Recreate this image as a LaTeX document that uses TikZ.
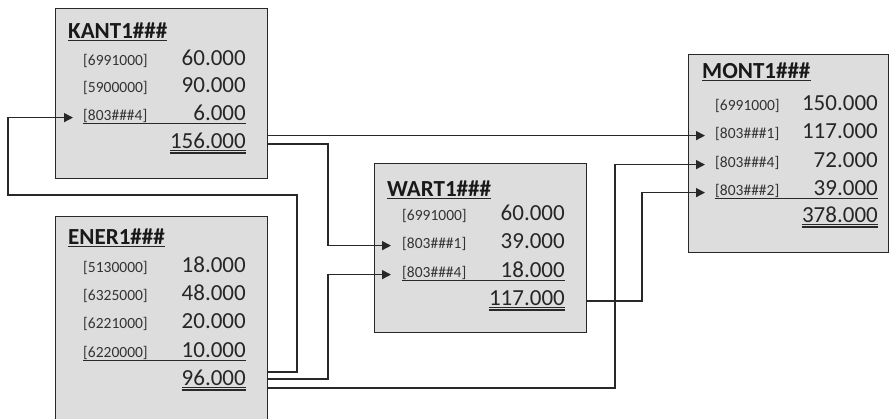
\documentclass[tikz,border=0pt]{standalone}
\usepackage{fontspec}
\setmainfont{Carlito}
\usetikzlibrary{arrows.meta,calc}
\definecolor{boxfill}{RGB}{221,221,221}
\definecolor{linec}{RGB}{40,40,40}
\begin{document}
\begin{tikzpicture}[x=1pt,y=-1pt,
  acct/.style={draw=linec, line width=1.3pt, fill=boxfill, anchor=north west, inner sep=0pt},
  ttl/.style={anchor=base west, inner sep=0pt, font=\fontsize{23}{23}\selectfont\bfseries, text=black!90},
  lbl/.style={anchor=base west, inner sep=0pt, font=\fontsize{15.5}{15.5}\selectfont, text=black!80},
  num/.style={anchor=base east, inner sep=0pt, font=\fontsize{23}{23}\selectfont, text=black!85},
  conn/.style={draw=linec, line width=1.4pt},
  arr/.style={conn, -{Triangle[length=9pt,width=9pt]}},
  ul/.style={draw=linec, line width=1pt},
]
\useasboundingbox (0,0) rectangle (890,418);

% boxes
\node[acct, minimum width=212pt, minimum height=170pt] (kant) at (55,8) {};
\node[acct, minimum width=212pt, minimum height=224pt] (ener) at (55,216) {};
\node[acct, minimum width=212pt, minimum height=169pt] (wart) at (374,163) {};
\node[acct, minimum width=200pt, minimum height=198pt] (mont) at (688,54) {};

% KANT
\node[ttl] (kt) at (68,38) {KANT1\#\#\#};
\node[lbl] (kL1) at (83,65) {[6991000]};
\node[num] (kN1) at (246,65) {60.000};
\node[lbl] (kL2) at (83,92) {[5900000]};
\node[num] (kN2) at (246,92) {90.000};
\node[lbl] (kL3) at (83,120) {[803\#\#\#4]};
\node[num] (kN3) at (246,120) {6.000};
\node[num] (ktot) at (246,148) {156.000};

% ENER
\node[ttl] (et) at (68,244) {ENER1\#\#\#};
\node[lbl] (eL1) at (83,272) {[5130000]};
\node[num] (eN1) at (246,272) {18.000};
\node[lbl] (eL2) at (83,300) {[6325000]};
\node[num] (eN2) at (246,300) {48.000};
\node[lbl] (eL3) at (83,328) {[6221000]};
\node[num] (eN3) at (246,328) {20.000};
\node[lbl] (eL4) at (83,357) {[6220000]};
\node[num] (eN4) at (246,357) {10.000};
\node[num] (etot) at (246,385) {96.000};

% WART
\node[ttl] (wt) at (387,196) {WART1\#\#\#};
\node[lbl] (wL1) at (402,220) {[6991000]};
\node[num] (wN1) at (565,220) {60.000};
\node[lbl] (wL2) at (402,248) {[803\#\#\#1]};
\node[num] (wN2) at (565,248) {39.000};
\node[lbl] (wL3) at (402,277) {[803\#\#\#4]};
\node[num] (wN3) at (565,277) {18.000};
\node[num] (wtot) at (565,305) {117.000};

% MONT
\node[ttl] (mt) at (702,78) {MONT1\#\#\#};
\node[lbl] (mL1) at (715,110) {[6991000]};
\node[num] (mN1) at (878,110) {150.000};
\node[lbl] (mL2) at (715,138) {[803\#\#\#1]};
\node[num] (mN2) at (878,138) {117.000};
\node[lbl] (mL3) at (715,167) {[803\#\#\#4]};
\node[num] (mN3) at (878,167) {72.000};
\node[lbl] (mL4) at (715,195) {[803\#\#\#2]};
\node[num] (mN4) at (878,195) {39.000};
\node[num] (mtot) at (878,222) {378.000};

% underlines
\foreach \t in {kt,et,wt,mt}{
  \draw[ul, line width=1.2pt] ($(\t.base west)+(0,2.5)$) -- ($(\t.base east)+(0,2.5)$);
}
\foreach \l/\n in {kL3/kN3,eL4/eN4,wL3/wN3,mL4/mN4}{
  \draw[ul] ($(\l.base west)+(0,3)$) -- ($(\n.base east)+(0,3)$);
}
\foreach \t in {ktot,etot,wtot,mtot}{
  \draw[ul] ($(\t.base west)+(0,2.8)$) -- ($(\t.base east)+(0,2.8)$);
  \draw[ul, line width=1.6pt] ($(\t.base west)+(0,4.8)$) -- ($(\t.base east)+(0,4.8)$);
}

% arrow targets
\coordinate (kA3) at ($(kL3.mid west)+(-10,0)$);
\coordinate (wA2) at ($(wL2.mid west)+(-11,0)$);
\coordinate (wA3) at ($(wL3.mid west)+(-11,0)$);
\coordinate (mA2) at ($(mL2.mid west)+(-10,0)$);
\coordinate (mA3) at ($(mL3.mid west)+(-10,0)$);
\coordinate (mA4) at ($(mL4.mid west)+(-10,0)$);

% connectors
\draw[arr] (kant.east |- mA2) -- (mA2);
\draw[arr] ($(kant.east |- ktot.base)+(0,-4)$) -| (328,200) |- (wA2);
\draw[arr] ($(ener.east |- etot.base)+(0,-13)$) -| (297,195) -- (8,195) |- (kA3);
\draw[arr] ($(ener.east |- etot.base)+(0,-6)$) -| (328,300) |- (wA3);
\draw[arr] ($(ener.east |- etot.base)+(0,3)$) -| (615,300) |- (mA3);
\draw[arr] ($(wart.east |- wtot.base)+(0,-4)$) -| (642,250) |- (mA4);
\end{tikzpicture}
\end{document}
